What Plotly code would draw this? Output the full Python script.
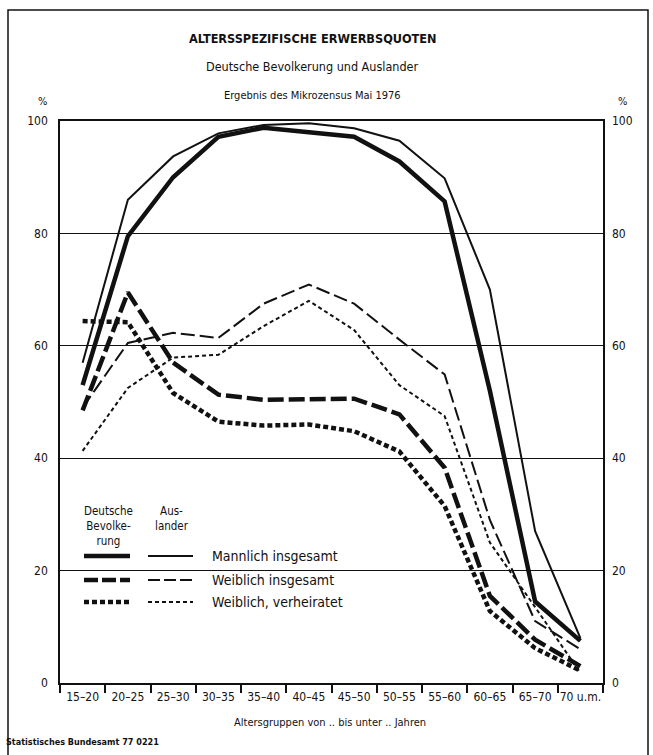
import plotly.graph_objects as go

categories = ["15–20", "20–25", "25–30", "30–35", "35–40", "40–45",
              "45–50", "50–55", "55–60", "60–65", "65–70", "70 u.m."]

de_maennlich = [53.0, 79.5, 90.0, 97.2, 98.8, 98.0, 97.2, 92.8, 85.7, 52.0, 14.5, 7.5]
au_maennlich = [57.0, 86.0, 93.7, 97.8, 99.3, 99.6, 98.7, 96.5, 89.8, 70.0, 27.0, 8.0]
de_weiblich = [48.5, 69.5, 57.0, 51.3, 50.4, 50.6, 50.6, 47.8, 38.3, 15.5, 7.7, 3.0]
au_weiblich = [49.0, 60.5, 62.3, 61.4, 67.5, 70.9, 67.5, 61.1, 54.9, 29.0, 11.0, 6.0]
de_verheiratet = [64.4, 64.2, 51.6, 46.5, 45.8, 46.0, 44.8, 41.2, 31.5, 12.8, 6.2, 2.2]
au_verheiratet = [41.3, 52.5, 57.9, 58.4, 63.5, 68.0, 62.8, 53.0, 47.5, 25.0, 13.5, 1.8]

y_ticks = [0, 20, 40, 60, 80, 100]

FONT = "DejaVu Sans Condensed, Liberation Sans Narrow, Arial Narrow, sans-serif"
INK = "#111111"

W, H = 653, 755
L, R, T, B = 60, 50, 121, 72
PW, PH = W - L - R, H - T - B


def fx(px):
    return (px - L) / PW


def fy(py):
    return (H - B - py) / PH


series = [
    (de_maennlich, 4.5, "solid"),
    (au_maennlich, 2.0, "solid"),
    (de_weiblich, 4.5, "16px,5px"),
    (au_weiblich, 2.0, "14px,5px"),
    (de_verheiratet, 4.5, "5px,3px"),
    (au_verheiratet, 2.0, "4px,3px"),
]

fig = go.Figure()
for vals, w, dash in series:
    fig.add_trace(go.Scatter(x=categories, y=vals, mode="lines",
                             line=dict(color=INK, width=w, dash=dash),
                             showlegend=False, hoverinfo="skip"))
# invisible trace to carry the right axis
fig.add_trace(go.Scatter(x=categories, y=de_maennlich, yaxis="y2", mode="lines",
                         line=dict(width=0), opacity=0, showlegend=False, hoverinfo="skip"))

shapes = []
# white patch interrupting the 20 % gridline behind the legend
shapes.append(dict(type="rect", xref="paper", yref="paper", layer="between",
                   x0=fx(73), x1=fx(362), y0=fy(575), y1=fy(567),
                   fillcolor="white", line=dict(width=0)))
# outer frame (top, left, right)
shapes.append(dict(type="path", xref="paper", yref="paper",
                   path=f"M {fx(8)} {fy(755)} L {fx(8)} {fy(10)} L {fx(648)} {fy(10)} L {fx(648)} {fy(755)}",
                   line=dict(color=INK, width=1.5)))

# legend keys
rows = [556, 580, 602]
styles = [("solid", "solid"), ("14px,4px", "12px,4px"), ("5px,3px", "4px,3px")]
for ry, (d1, d2) in zip(rows, styles):
    shapes.append(dict(type="line", xref="paper", yref="paper",
                       x0=fx(84), x1=fx(130), y0=fy(ry), y1=fy(ry),
                       line=dict(color=INK, width=4.5, dash=d1)))
    shapes.append(dict(type="line", xref="paper", yref="paper",
                       x0=fx(148), x1=fx(193), y0=fy(ry), y1=fy(ry),
                       line=dict(color=INK, width=2, dash=d2)))

annotations = []


def txt(text, px, py, size, xanchor="center", bold=False):
    annotations.append(dict(text=f"<b>{text}</b>" if bold else text,
                            x=fx(px), y=fy(py), xref="paper", yref="paper",
                            xanchor=xanchor, yanchor="middle", showarrow=False,
                            font=dict(family=FONT, size=size, color=INK)))


txt("ALTERSSPEZIFISCHE ERWERBSQUOTEN", 313, 38, 12.6, bold=True)
txt("Deutsche Bevolkerung und Auslander", 312, 67, 12.5)
txt("Ergebnis des Mikrozensus Mai 1976", 312, 95, 11)
txt("%", 42, 102, 11)
txt("%", 622, 102, 11)
txt("Altersgruppen von .. bis unter .. Jahren", 330, 722, 11)
txt("Statistisches Bundesamt 77 0221", 4, 742, 9, xanchor="left", bold=True)

annotations.append(dict(text="Deutsche<br>Bevolke-<br>rung", x=fx(108), y=fy(502),
                        xref="paper", yref="paper", xanchor="center", yanchor="top",
                        showarrow=False, align="center",
                        font=dict(family=FONT, size=11.5, color=INK)))
annotations.append(dict(text="Aus-<br>lander", x=fx(172), y=fy(502),
                        xref="paper", yref="paper", xanchor="center", yanchor="top",
                        showarrow=False, align="center",
                        font=dict(family=FONT, size=11.5, color=INK)))
labels = ["Mannlich insgesamt", "Weiblich insgesamt", "Weiblich, verheiratet"]
for ry, lab in zip(rows, labels):
    txt(lab, 210, ry, 14, xanchor="left")

fig.update_layout(
    width=W, height=H,
    margin=dict(l=L, r=R, t=T, b=B),
    paper_bgcolor="white", plot_bgcolor="white",
    font=dict(family=FONT, color=INK),
    shapes=shapes, annotations=annotations,
    xaxis=dict(type="category", categoryorder="array", categoryarray=categories,
               range=[-0.5, len(categories) - 0.5],
               showline=True, mirror=True, linecolor=INK, linewidth=1.5,
               ticks="outside", tickson="boundaries", ticklen=8, tickcolor=INK,
               tickwidth=1.5, showgrid=False, zeroline=False, tickangle=0,
               ticklabelstandoff=2,
               tickfont=dict(family=FONT, size=12, color=INK)),
    yaxis=dict(range=[0, 100], tickvals=y_ticks, showline=True, mirror=True,
               linecolor=INK, linewidth=1.5, showgrid=True, gridcolor=INK,
               gridwidth=1.2, zeroline=False, ticks="", ticklabelstandoff=8,
               tickfont=dict(family=FONT, size=12, color=INK)),
    yaxis2=dict(range=[0, 100], tickvals=y_ticks, overlaying="y", side="right",
                showgrid=False, zeroline=False, showline=False, ticks="",
                ticklabelstandoff=8,
                tickfont=dict(family=FONT, size=12, color=INK)),
)

fig.write_html("out.html", config={"displayModeBar": False},
               post_script="document.body.style.margin='0';document.body.style.overflow='hidden';")
